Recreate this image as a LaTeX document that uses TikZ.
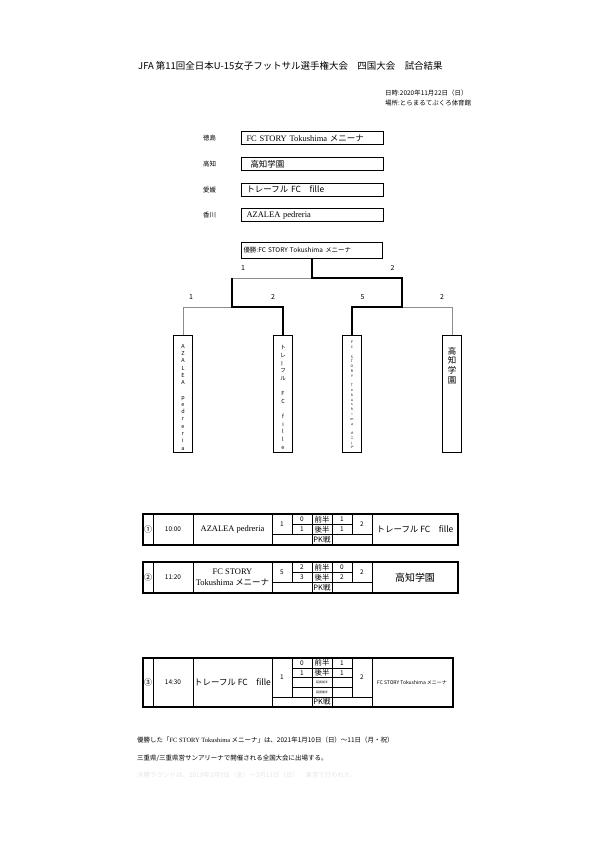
\documentclass[tikz,border=0pt]{standalone}
\usepackage{fontspec}
\usepackage{graphicx}
\setmainfont{Noto Sans CJK JP}
\newfontfamily\lat{Liberation Serif}
\usetikzlibrary{positioning,calc}
\newcommand{\tatebar}{\rotatebox[origin=c]{90}{ー}}

\begin{document}
\begin{tikzpicture}[x=1bp, y=-1bp,
    every node/.style={inner sep=0pt},
    heading/.style={font=\fontsize{9.5}{11}\selectfont},
    note/.style={font=\fontsize{6.5}{10.5}\selectfont, align=left},
    pref/.style={font=\fontsize{6.5}{7}\selectfont},
    prefbox/.style={draw, line width=1.1bp, minimum width=141.5bp,
                    minimum height=13bp, text width=132bp, align=left,
                    font=\fontsize{8.5}{10}\selectfont},
    champbox/.style={draw, line width=1.1bp, minimum width=140.5bp,
                     minimum height=16bp, text width=137bp, align=left,
                     font=\fontsize{6.5}{7}\selectfont},
    team/.style={draw, line width=1.2bp, minimum width=19bp,
                 minimum height=117bp, anchor=north},
    vtext/.style 2 args={align=center, font=\fontsize{#1}{#2}\selectfont},
    score/.style={font=\fontsize{7}{8}\selectfont},
    win/.style={line width=1.6bp},
    lose/.style={draw=black!45, line width=0.6bp},
    gridout/.style={line width=1.2bp},
    gridmid/.style={line width=0.8bp},
    gridin/.style={line width=0.4bp},
    cell/.style={font=\fontsize{6.5}{7}\selectfont},
    numcell/.style={font=\fontsize{8}{8}\selectfont},
    half/.style={font=\fontsize{7.5}{8}\selectfont},
    extra/.style={font=\fontsize{3}{3}\selectfont},
    club/.style={font=\fontsize{8.5}{10.5}\selectfont, align=center}
]
\useasboundingbox (0,0) rectangle (595,841);

% header
\node[heading, anchor=west] (head) at (138,66)
     {JFA 第11回全日本U-15女子フットサル選手権大会　四国大会　試合結果};
\node[note, anchor=west] (date) at (385,98)
     {日時:2020年11月22日（日）\\場所:とらまるてぶくろ体育館};

% entries
\node[prefbox] (p1) at (312.5,138.2) {{\lat FC STORY Tokushima} メニーナ};
\node[prefbox, below=11.6bp of p1] (p2) {\hspace*{4bp}高知学園};
\node[prefbox, below=11.6bp of p2] (p3) {トレーフル FC　fille};
\node[prefbox, below=11.6bp of p3] (p4) {{\lat AZALEA pedreria}};
\node[pref, left=25bp of p1] (l1) {徳島};
\node[pref, left=25bp of p2] (l2) {高知};
\node[pref, left=25bp of p3] (l3) {愛媛};
\node[pref, left=25bp of p4] (l4) {香川};

% bracket
\node[champbox] (champ) at (312,250.3) {優勝:FC STORY Tokushima メニーナ};
\node[team] (t1) at (183,335) {};
\node[team] (t2) at (283,335) {};
\node[team] (t3) at (352,335) {};
\node[team] (t4) at (452,335) {};
\coordinate (f)  at (champ.south |- 0,278);
\coordinate (fl) at (232,278);
\coordinate (fr) at (402,278);
\coordinate (s1) at (232,307);
\coordinate (s2) at (402,307);
\draw[lose] (f) -- (fl);
\draw[lose] (s1) -- (t1.north |- s1) -- (t1.north);
\draw[lose] (s2) -- (t4.north |- s2) -- (t4.north);
\draw[win] (fl) -- (s1) -- (t2.north |- s1) -- (t2.north);
\draw[win] (champ.south) -- (f) -- (fr) -- (s2) -- (t3.north |- s2) -- (t3.north);
\node[score] (sf1) at (243,268) {1};
\node[score] (sf2) at (392.5,268) {2};
\node[score] (sa1) at (191,297) {1};
\node[score] (sa2) at (273,297) {2};
\node[score] (sb1) at (362.5,297) {5};
\node[score] (sb2) at (442,297) {2};

\node[vtext={5.5}{7.3}, below=9bp of t1.north] (v1)
     {A\\Z\\A\\L\\E\\A\\~\\p\\e\\d\\r\\e\\r\\i\\a};
\node[vtext={5.5}{7.7}, below=10bp of t2.north] (v2)
     {ト\\レ\\\tatebar\\フ\\ル\\~\\F\\C\\~\\f\\i\\l\\l\\e};
\node[vtext={3.5}{4.8}, below=6bp of t3.north] (v3)
     {F\\C\\~\\S\\T\\O\\R\\Y\\~\\T\\o\\k\\u\\s\\h\\i\\m\\a\\~\\メ\\ニ\\\tatebar\\ナ};
\node[vtext={8.5}{9.6}, below=12bp of t4.north] (v4) {高\\知\\学\\園};

% result tables
\foreach \t/\h/\n/\r in {514/10.3/3/458, 562/10.3/3/458, 658/9.8/5/453} {
  \pgfmathsetmacro\b{\t+\n*\h}
  \pgfmathsetmacro\k{\t+(\n-1)*\h}
  \pgfmathtruncatemacro\m{\n-2}
  \foreach \x in {153,193,272,372} \draw[gridmid] (\x,\t) -- (\x,\b);
  \foreach \x in {312,332} \draw[gridin] (\x,\t) -- (\x,\b);
  \foreach \x in {292,352} \draw[gridin] (\x,\t) -- (\x,\k);
  \draw[gridin] (272,\k) -- (372,\k);
  \foreach \i in {1,...,\m} \draw[gridin] (292,\t+\i*\h) -- (352,\t+\i*\h);
  \draw[gridout] (143,\t) rectangle (\r,\b);
}

% match 1
\node[numcell] (n1) at (148,529.5) {①};
\node[cell] (tm1) at (173,529.5) {10:00};
\node[club] (h1) at (232.5,529.5) {\lat AZALEA pedreria};
\node[cell] (hs1) at (282,524.3) {1};
\node[cell] (a11) at (302,519.2) {0};
\node[cell] (a12) at (302,529.5) {1};
\node[half] (q11) at (322,519.2) {前半};
\node[half] (q12) at (322,529.5) {後半};
\node[half] (pk1) at (322,539.8) {PK戦};
\node[cell] (b11) at (342,519.2) {1};
\node[cell] (b12) at (342,529.5) {1};
\node[cell] (as1) at (362,524.3) {2};
\node[club] (w1) at (415,529.5) {トレーフル FC　fille};

% match 2
\node[numcell] (n2) at (148,577.5) {②};
\node[cell] (tm2) at (173,577.5) {11:20};
\node[club] (h2) at (232.5,577.5) {\lat FC STORY\\{\lat Tokushima} メニーナ};
\node[cell] (hs2) at (282,572.3) {5};
\node[cell] (a21) at (302,567.2) {2};
\node[cell] (a22) at (302,577.5) {3};
\node[half] (q21) at (322,567.2) {前半};
\node[half] (q22) at (322,577.5) {後半};
\node[half] (pk2) at (322,587.8) {PK戦};
\node[cell] (b21) at (342,567.2) {0};
\node[cell] (b22) at (342,577.5) {2};
\node[cell] (as2) at (362,572.3) {2};
\node[club, font=\fontsize{10}{11}\selectfont] (w2) at (415,577.5) {高知学園};

% match 3
\node[numcell] (n3) at (148,682.5) {③};
\node[cell] (tm3) at (173,682.5) {14:30};
\node[club] (h3) at (232.5,682.5) {トレーフル FC　fille};
\node[cell] (hs3) at (282,677.6) {1};
\node[cell] (a31) at (302,662.9) {0};
\node[cell] (a32) at (302,672.7) {1};
\node[half] (q31) at (322,662.9) {前半};
\node[half] (q32) at (322,672.7) {後半};
\node[extra] (q33) at (322,682.5) {延長前半};
\node[extra] (q34) at (322,692.3) {延長後半};
\node[half] (pk3) at (322,702.1) {PK戦};
\node[cell] (b31) at (342,662.9) {1};
\node[cell] (b32) at (342,672.7) {1};
\node[cell] (as3) at (362,677.6) {2};
\node[club, font=\fontsize{5}{6}\selectfont] (w3) at (412,682.5)
     {FC STORY Tokushima メニーナ};

% closing note
\node[note, anchor=west] (end1) at (137,740)
     {優勝した「{\lat FC STORY Tokushima} メニーナ」は、2021年1月10日（日）～11日（月・祝）};
\node[note, anchor=west] (end2) at (137,758)
     {三重県/三重県営サンアリーナで開催される全国大会に出場する。};
\node[note, anchor=west, text=black!10] (end3) at (137,775)
     {決勝ラウンドは、2019年3月9日（金）～3月11日（日）　東京で行われた。};
\end{tikzpicture}
\end{document}
